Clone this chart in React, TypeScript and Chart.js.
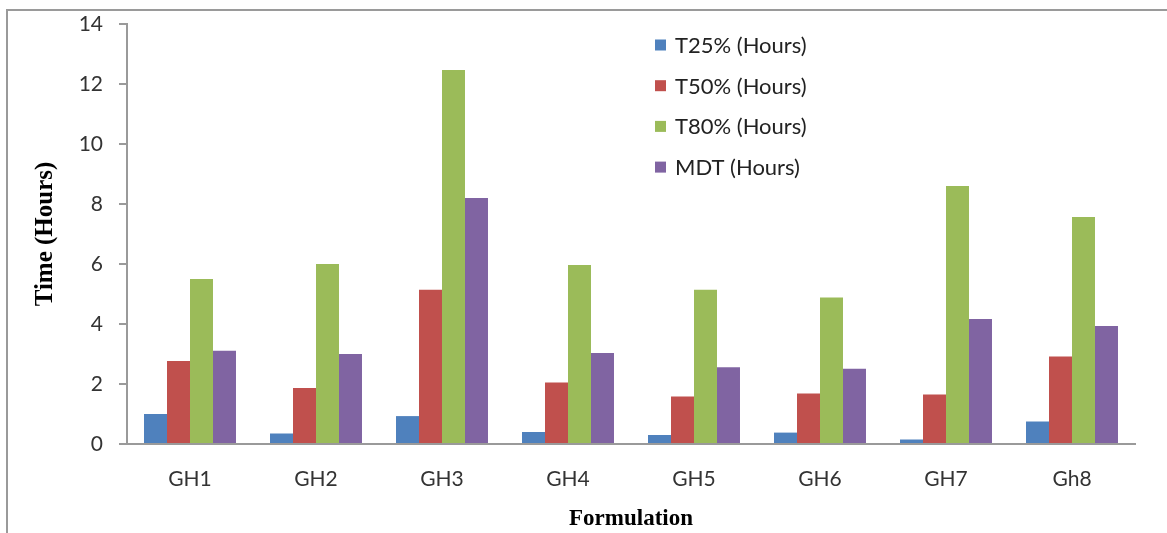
import React, { useEffect, useRef } from "react";
import { Chart, registerables } from "chart.js";

Chart.register(...registerables);

const categories = ["GH1", "GH2", "GH3", "GH4", "GH5", "GH6", "GH7", "Gh8"];
const t25 = [1.0, 0.35, 0.93, 0.4, 0.3, 0.38, 0.15, 0.75];
const t50 = [2.77, 1.87, 5.14, 2.05, 1.58, 1.68, 1.65, 2.92];
const t80 = [5.5, 6.0, 12.47, 5.97, 5.14, 4.88, 8.6, 7.57];
const mdt = [3.11, 3.0, 8.2, 3.03, 2.56, 2.51, 4.17, 3.93];
const seriesNames = ["T25% (Hours)", "T50% (Hours)", "T80% (Hours)", "MDT (Hours)"];
const colors = ["#4F81BD", "#C0504D", "#9BBB59", "#8064A2"];
const yTicks = [0, 2, 4, 6, 8, 10, 12, 14];

const TICK_FONT = "Lato, 'Open Sans', sans-serif";
const TITLE_FONT = "'Liberation Serif', 'Times New Roman', serif";

const framePlugin = {
  id: "frame",
  beforeDraw(chart: any) {
    const ctx = chart.ctx;
    ctx.save();
    ctx.fillStyle = "#ffffff";
    ctx.fillRect(0, 0, chart.width, chart.height);
    ctx.strokeStyle = "#9a9a9a";
    ctx.lineWidth = 2;
    ctx.beginPath();
    ctx.moveTo(7, chart.height);
    ctx.lineTo(7, 10);
    ctx.lineTo(chart.width, 10);
    ctx.stroke();
    ctx.restore();
  },
};

const legendPlugin = {
  id: "insideLegend",
  afterDraw(chart: any) {
    const ctx = chart.ctx;
    ctx.save();
    const x0 = 655;
    const y0 = 45;
    const step = 40.7;
    ctx.font = `22px ${TICK_FONT}`;
    ctx.textBaseline = "middle";
    ctx.textAlign = "left";
    chart.data.datasets.forEach((ds: any, i: number) => {
      const y = y0 + i * step;
      ctx.fillStyle = ds.backgroundColor;
      ctx.fillRect(x0, y - 5.5, 11, 11);
      ctx.fillStyle = "#222222";
      ctx.fillText(ds.label, x0 + 20, y + 1);
    });
    ctx.restore();
  },
};

export default function App() {
  const ref = useRef<HTMLCanvasElement | null>(null);
  useEffect(() => {
    if (!ref.current) return;
    const data = [t25, t50, t80, mdt];
    const chart = new Chart(ref.current, {
      type: "bar",
      data: {
        labels: categories,
        datasets: data.map((d, i) => ({
          label: seriesNames[i],
          data: d,
          backgroundColor: colors[i],
          borderWidth: 0,
          categoryPercentage: 0.73,
          barPercentage: 1.0,
        })),
      },
      options: {
        animation: false,
        responsive: false,
        maintainAspectRatio: false,
        layout: { padding: { left: 0, top: 24, right: 32, bottom: 0 } },
        plugins: {
          legend: { display: false },
          tooltip: { enabled: false },
        },
        scales: {
          x: {
            grid: { display: false, drawTicks: false },
            border: { display: true, color: "#9a9a9a", width: 2 },
            ticks: {
              color: "#333333",
              font: { family: TICK_FONT, size: 21 },
              padding: 23,
            },
            title: {
              display: true,
              text: "Formulation",
              color: "#000000",
              font: { family: TITLE_FONT, size: 23, weight: "bold" },
              padding: 0,
            },
            afterFit(scale: any) {
              scale.height = 89;
              scale.paddingLeft = 0;
              scale.paddingRight = 0;
            },
          },
          y: {
            min: 0,
            max: 14,
            afterBuildTicks(scale: any) {
              scale.ticks = yTicks.map((v) => ({ value: v }));
            },
            grid: {
              display: true,
              drawOnChartArea: false,
              drawTicks: true,
              tickLength: 8,
              color: "#9a9a9a",
              lineWidth: 2,
            },
            border: { display: true, color: "#9a9a9a", width: 2 },
            ticks: {
              color: "#333333",
              font: { family: TICK_FONT, size: 21 },
              padding: 16,
            },
            title: {
              display: true,
              text: "Time (Hours)",
              color: "#000000",
              font: { family: TITLE_FONT, size: 25, weight: "bold" },
              padding: 31,
            },
            afterFit(scale: any) {
              scale.width = 127;
              scale.paddingTop = 0;
              scale.paddingBottom = 0;
            },
          },
        },
      },
      plugins: [framePlugin, legendPlugin],
    });
    return () => chart.destroy();
  }, []);
  return (
    <div style={{ position: "fixed", left: 0, top: 0, width: 1167, height: 533, background: "#fff" }}>
      <canvas ref={ref} width={1167} height={533} style={{ width: 1167, height: 533, display: "block" }} />
    </div>
  );
}
